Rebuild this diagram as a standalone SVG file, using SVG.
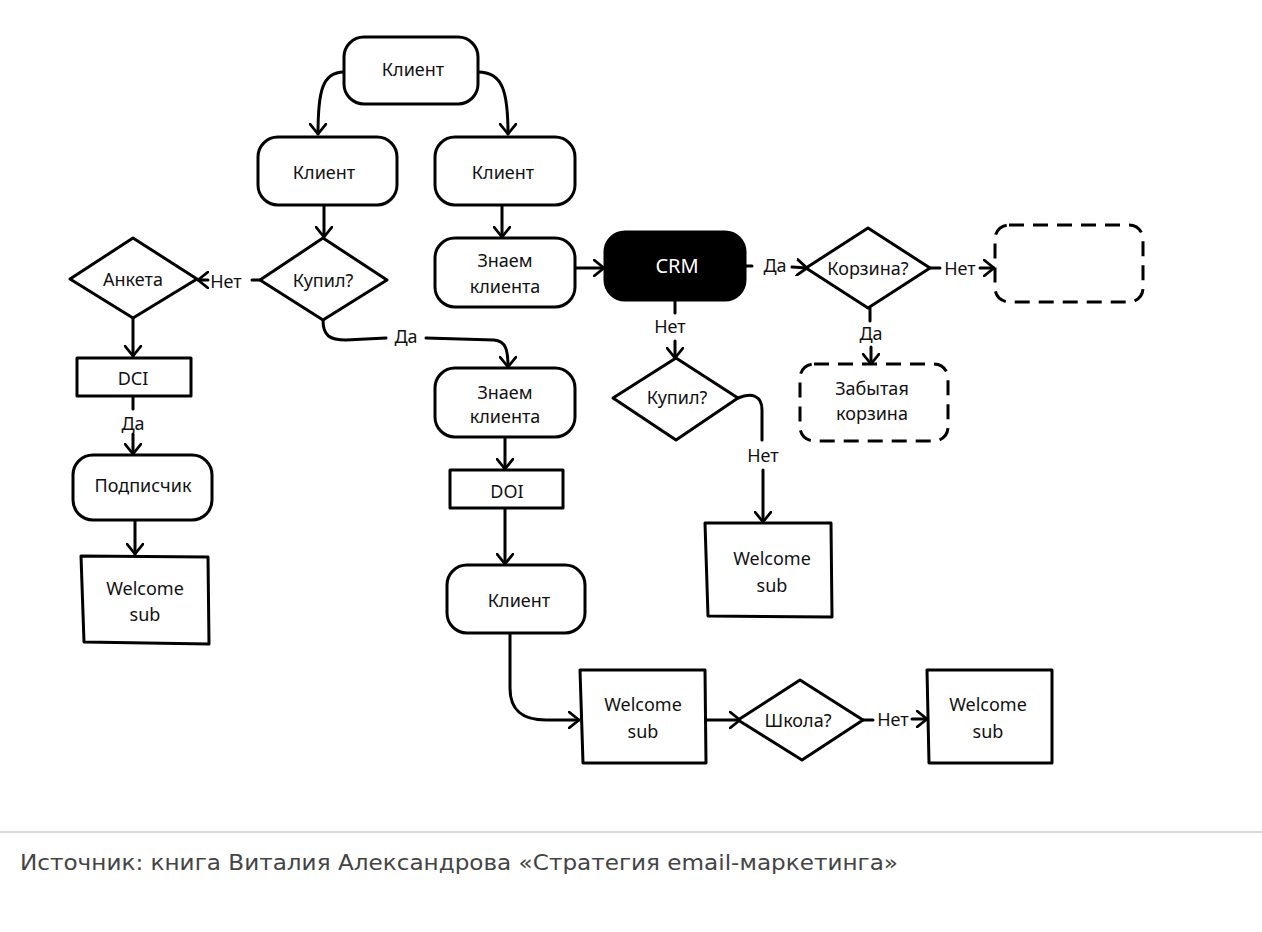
<svg xmlns="http://www.w3.org/2000/svg" width="1262" height="932" viewBox="0 0 1262 932">
<style>
.sh{fill:#fff;stroke:#000;stroke-width:3;stroke-linejoin:round}
.dash{fill:#fff;stroke:#000;stroke-width:3;stroke-dasharray:15 9}
.t{font-family:"Noto Sans","Open Sans",sans-serif;font-size:18px;fill:#111;text-anchor:middle;dominant-baseline:central}
.lbl{font-family:"Noto Sans","Open Sans",sans-serif;font-size:18px;fill:#111;text-anchor:middle;dominant-baseline:central}
.c{fill:none;stroke:#000;stroke-width:3;stroke-linecap:round;stroke-linejoin:round}
.a{marker-end:url(#arr)}
</style>
<defs>
<marker id="arr" viewBox="0 0 12 18" refX="11" refY="9" markerWidth="12" markerHeight="18" markerUnits="userSpaceOnUse" orient="auto">
<path d="M1,1 L11,9 L1,17" fill="none" stroke="#000" stroke-width="2.8" stroke-linecap="round" stroke-linejoin="round"/>
</marker>
</defs>
<rect width="1262" height="932" fill="#fff"/>

<g id="connectors">
<path class="c a" d="M344,72 C322,72 318,92 318,134"/>
<path class="c a" d="M478,72 C503,72 508,92 508,134"/>
<path class="c a" d="M324,205 L324,237"/>
<path class="c a" d="M502,205 L502,237"/>
<path class="c" d="M260,280 L252,280"/>
<path class="c a" d="M208,280 L198,280"/>
<path class="c a" d="M133,318 L133,356"/>
<path class="c" d="M133,396 L133,409"/>
<path class="c a" d="M133,434 L133,454"/>
<path class="c a" d="M135,520 L135,554"/>
<path class="c" d="M323,320 C323,336 330,340 346,340 L386,338"/>
<path class="c a" d="M426,338 L494,340 C506,341 508,350 508,367"/>
<path class="c a" d="M575,268 L604,268"/>
<path class="c" d="M745,266 L752,266"/>
<path class="c a" d="M792,267 L807,268"/>
<path class="c" d="M930,268 L940,268"/>
<path class="c a" d="M980,268 L994,268"/>
<path class="c" d="M870,308 L870,321"/>
<path class="c a" d="M871,347 L871,364"/>
<path class="c" d="M675,300 L675,313"/>
<path class="c a" d="M675,341 L675,358"/>
<path class="c" d="M738,398 C752,392 762,396 762,410 L762,440"/>
<path class="c a" d="M763,470 L763,522"/>
<path class="c a" d="M505,437 L505,469"/>
<path class="c a" d="M505,508 L505,564"/>
<path class="c a" d="M510,633 L510,688 C510,712 524,720 546,720 L579,720"/>
<path class="c a" d="M706,720 L740,720"/>
<path class="c" d="M863,720 L873,720"/>
<path class="c a" d="M912,719 L927,719"/>
<text class="lbl" x="226" y="281">Нет</text>
<text class="lbl" x="133" y="423">Да</text>
<text class="lbl" x="406" y="336">Да</text>
<text class="lbl" x="775" y="265">Да</text>
<text class="lbl" x="960" y="268">Нет</text>
<text class="lbl" x="871" y="333">Да</text>
<text class="lbl" x="670" y="326">Нет</text>
<text class="lbl" x="763" y="455">Нет</text>
<text class="lbl" x="893" y="719">Нет</text>
</g>

<g id="n-client-top"><rect class="sh" x="344" y="37" width="134" height="67" rx="20"/><text class="t" x="413" y="69">Клиент</text></g>
<g id="n-client-left"><rect class="sh" x="258" y="137" width="139" height="68" rx="20"/><text class="t" x="324" y="172">Клиент</text></g>
<g id="n-client-right"><rect class="sh" x="435" y="137" width="140" height="68" rx="20"/><text class="t" x="503" y="172">Клиент</text></g>
<g id="n-kupil1"><path class="sh" d="M323,238 L387,280 L323,320 L260,280 Z"/><text class="t" x="323" y="280">Купил?</text></g>
<g id="n-anketa"><path class="sh" d="M133,238 L197,279 L133,318 L70,279 Z"/><text class="t" x="133" y="279">Анкета</text></g>
<g id="n-dci"><rect class="sh" x="77" y="358" width="114" height="38"/><text class="t" x="133" y="378">DCI</text></g>
<g id="n-podpischik"><rect class="sh" x="73" y="455" width="139" height="65" rx="20"/><text class="t" x="143" y="485">Подписчик</text></g>
<g id="n-welcome1"><path class="sh" d="M81,556 L208,557 L209,644 L84,642 Z"/><text class="t" x="145" y="588">Welcome</text><text class="t" x="145" y="614">sub</text></g>
<g id="n-znaem1"><rect class="sh" x="435" y="238" width="140" height="69" rx="20"/><text class="t" x="505" y="260">Знаем</text><text class="t" x="505" y="286">клиента</text></g>
<g id="n-crm"><rect x="605" y="232" width="140" height="68" rx="20" fill="#000" stroke="#000" stroke-width="3"/><text class="t" x="677" y="265" style="fill:#fff;font-size:20px">CRM</text></g>
<g id="n-korzina"><path class="sh" d="M868,228 L930,268 L868,308 L806,268 Z"/><text class="t" x="868" y="268">Корзина?</text></g>
<g id="n-empty"><rect class="dash" x="995" y="225" width="148" height="77" rx="14"/></g>
<g id="n-zabytaya"><rect class="dash" x="800" y="364" width="148" height="77" rx="14"/><text class="t" x="872" y="388">Забытая</text><text class="t" x="872" y="413">корзина</text></g>
<g id="n-kupil2"><path class="sh" d="M676,358 L738,398 L676,440 L613,398 Z"/><text class="t" x="677" y="397">Купил?</text></g>
<g id="n-welcome2"><path class="sh" d="M705,523 L831,523 L832,617 L708,616 Z"/><text class="t" x="772" y="558">Welcome</text><text class="t" x="772" y="585">sub</text></g>
<g id="n-znaem2"><rect class="sh" x="435" y="368" width="140" height="69" rx="20"/><text class="t" x="505" y="392">Знаем</text><text class="t" x="505" y="416">клиента</text></g>
<g id="n-doi"><rect class="sh" x="450" y="470" width="113" height="38"/><text class="t" x="507" y="491">DOI</text></g>
<g id="n-client3"><rect class="sh" x="447" y="565" width="138" height="68" rx="20"/><text class="t" x="519" y="600">Клиент</text></g>
<g id="n-welcome3"><path class="sh" d="M580,670 L705,670 L706,763 L583,763 Z"/><text class="t" x="643" y="704">Welcome</text><text class="t" x="643" y="731">sub</text></g>
<g id="n-shkola"><path class="sh" d="M800,680 L863,720 L802,760 L738,720 Z"/><text class="t" x="798" y="720">Школа?</text></g>
<g id="n-welcome4"><path class="sh" d="M927,670 L1052,670 L1052,763 L929,763 Z"/><text class="t" x="988" y="704">Welcome</text><text class="t" x="988" y="731">sub</text></g>

<line x1="0" y1="832" x2="1262" y2="832" stroke="#ccc" stroke-width="1.5"/>
<text x="20" y="870" font-family="'DejaVu Sans','Open Sans',sans-serif" font-size="21" fill="#444" textLength="878" lengthAdjust="spacingAndGlyphs">Источник: книга Виталия Александрова «Стратегия email-маркетинга»</text>
</svg>
